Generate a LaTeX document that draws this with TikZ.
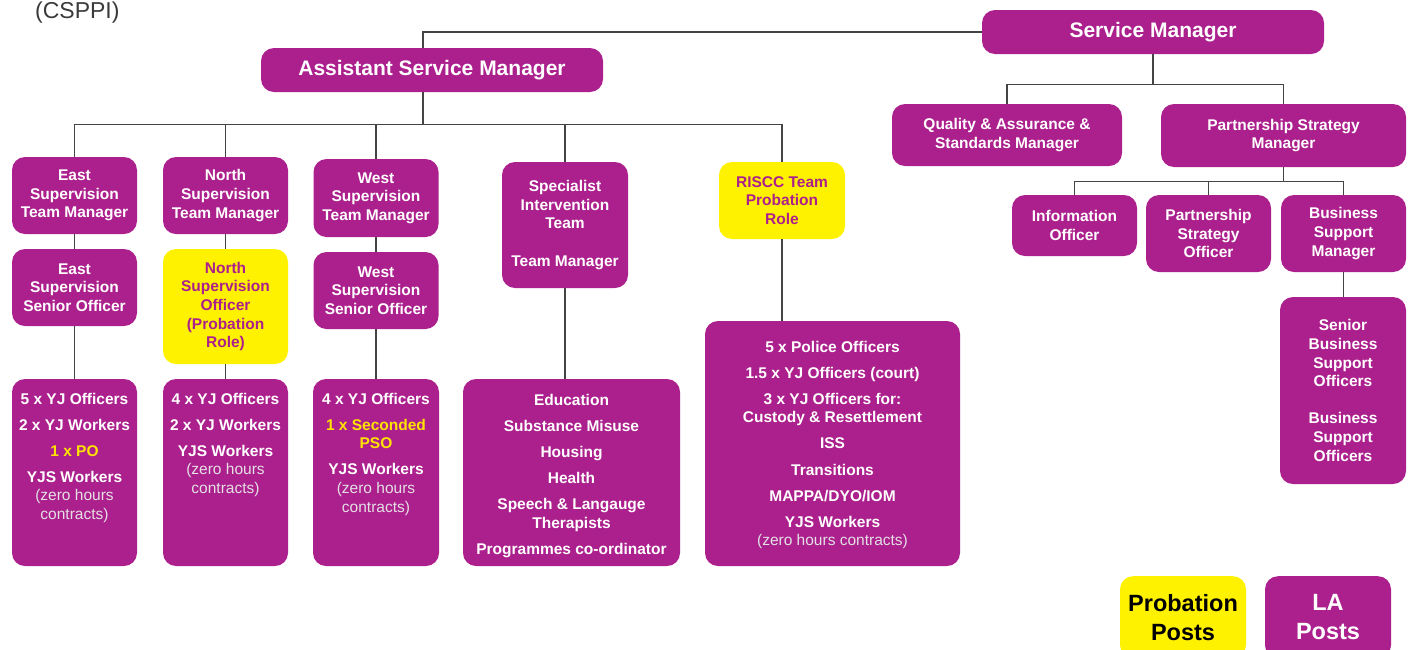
\documentclass[tikz,border=0pt]{standalone}
\usepackage{fontspec}
\setmainfont{Liberation Sans}
\usetikzlibrary{positioning}
\usetikzlibrary{calc}
\definecolor{laPurple}{HTML}{AC208D}
\definecolor{probYellow}{HTML}{FFF200}
\definecolor{poText}{HTML}{FFE400}
\definecolor{lineGray}{HTML}{444444}
\definecolor{dGray}{HTML}{3A3A3A}
\definecolor{lGray}{HTML}{E4E0E4}

\begin{document}
\begin{tikzpicture}[
    x=1pt, y=-1pt,
    post/.style = {fill=laPurple, text=white, rounded corners=13pt, inner sep=0pt, align=center,
      font=\bfseries\fontsize{15.5}{18.6}\selectfont},
    probation/.style = {post, fill=probYellow, text=laPurple},
    head/.style = {post, minimum width=342pt, minimum height=44pt, font=\bfseries\fontsize{21}{25}\selectfont},
    team/.style = {post, minimum width=125pt, minimum height=77pt},
    key/.style = {minimum width=126pt, minimum height=82pt, anchor=north, font=\bfseries\fontsize{23.5}{29}\selectfont},
    link/.style = {draw=lineGray, line width=1.3pt},
    ]

    \def\bodyfont{\fontsize{15.5}{18.6}\selectfont}
    % list box: height, width, first baseline, items
    \def\postlist#1#2#3#4{\parbox[c][#1pt][t]{#2pt}{\centering\bodyfont\rule{0pt}{#3pt}#4}}
    \def\zero#1{{\mdseries\color{lGray}#1}}

    \useasboundingbox (0,0) rectangle (1410,649);

    \node[anchor=base west, inner sep=0pt, text=dGray, font=\fontsize{23}{27}\selectfont] (csppi) at (35,18) {(CSPPI)};

    % managers
    \node[head] (sm) at (1153,32) {Service Manager};
    \node[head] (asm) at (432,70) {Assistant Service Manager};

    % team managers
    \node[team] (eastTM) at (74.5,195.5) {East\\Supervision\\Team Manager};
    \node[team] (northTM) at (225.5,195.5) {North\\Supervision\\Team Manager};
    \node[team, minimum height=78pt] (westTM) at (376,198) {West\\Supervision\\Team Manager};
    \node[team, minimum width=126pt, minimum height=126pt] (sitTM) at (565,225)
      {Specialist\\Intervention\\Team\\[18.6pt]Team Manager};
    \node[team, probation, minimum width=126pt] (risccTM) at (782,200.5) {RISCC Team\\Probation\\Role};

    % senior officers
    \node[team] (eastSO) at (74.5,287.5) {East\\Supervision\\Senior Officer};
    \node[team, probation, minimum height=115pt] (northSO) at (225.5,306.5)
      {North\\Supervision\\Officer\\(Probation\\Role)};
    \node[team] (westSO) at (376,290.5) {West\\Supervision\\Senior Officer};

    % staff lists
    \node[post] (eastList) at (74.5,472.5) {\postlist{187}{125}{25}{%
      5 x YJ Officers\\[7.5pt]2 x YJ Workers\\[7.5pt]\textcolor{poText}{1 x PO}\\[7.5pt]%
      YJS Workers\\\zero{(zero hours\\contracts)}}};
    \node[post] (northList) at (225.5,472.5) {\postlist{187}{125}{25}{%
      4 x YJ Officers\\[7.5pt]2 x YJ Workers\\[7.5pt]%
      YJS Workers\\\zero{(zero hours\\contracts)}}};
    \node[post] (westList) at (376,472.5) {\postlist{187}{126}{25}{%
      4 x YJ Officers\\[7.5pt]{\color{poText}1 x Seconded\\PSO}\\[7.5pt]%
      YJS Workers\\\zero{(zero hours\\contracts)}}};
    \node[post] (sitList) at (571.5,472.5) {\postlist{187}{217}{26}{%
      Education\\[7.5pt]Substance Misuse\\[7.5pt]Housing\\[7.5pt]Health\\[7.5pt]%
      Speech \& Langauge\\Therapists\\[7.5pt]Programmes co-ordinator}};
    \node[post] (risccList) at (832.5,443.5) {\postlist{245}{255}{31}{%
      5 x Police Officers\\[7.5pt]1.5 x YJ Officers (court)\\[7.5pt]%
      3 x YJ Officers for:\\Custody \& Resettlement\\[7.5pt]ISS\\[7.5pt]Transitions\\[7.5pt]%
      MAPPA/DYO/IOM\\[7.5pt]YJS Workers\\\zero{(zero hours contracts)}}};

    % partnership side
    \node[post, minimum width=230pt, minimum height=62pt] (qasm) at (1007,135)
      {Quality \& Assurance \&\\Standards Manager};
    \node[post, minimum width=245pt, minimum height=63pt] (psm) at (1283.5,135.5)
      {Partnership Strategy\\Manager};
    \node[team, minimum height=61pt] (info) at (1074.5,225.5) {Information\\Officer};
    \node[team] (pso) at (1208.5,233.5) {Partnership\\Strategy\\Officer};
    \node[team] (bsm) at (1343.5,233.5) {Business\\Support\\Manager};
    \node[team, minimum width=126pt, minimum height=187pt] (sbso) at (1343,390.5)
      {Senior\\Business\\Support\\Officers\\[18.6pt]Business\\Support\\Officers};

    % key
    \node[probation, key, text=black] (probKey) at (1183,576) {Probation\\Posts};
    \node[post, key] (laKey) at (1328,576) {LA\\Posts};

    % service manager -> assistant
    \draw[link] ([xshift=-9pt]asm.north) |- (sm.west);

    % assistant -> team managers
    \coordinate (asmBus) at ($(asm.south)+(-9,32)$);
    \draw[link] ([xshift=-9pt]asm.south) -- (asmBus) -| (eastTM.north);
    \draw[link] (asmBus) -| (northTM.north);
    \draw[link] (asmBus) -| (westTM.north);
    \draw[link] (asmBus) -| (sitTM.north);
    \draw[link] (asmBus) -| (risccTM.north);

    % team managers -> officers -> staff
    \draw[link] (eastTM) -- (eastSO);
    \draw[link] (eastSO) -- (eastList);
    \draw[link] (northTM) -- (northSO);
    \draw[link] (northSO) -- (northList);
    \draw[link] (westTM) -- (westSO);
    \draw[link] (westSO) -- (westList);
    \draw[link] (sitTM.south) -- (sitTM.south |- sitList.north);
    \draw[link] (risccTM.south) -- (risccTM.south |- risccList.north);

    % service manager -> partnership side
    \coordinate (smBus) at ($(sm.south)+(0,30)$);
    \draw[link] (sm.south) -- (smBus) -| (qasm.north);
    \draw[link] (smBus) -| (psm.north);
    \coordinate (psmBus) at ($(psm.south)+(0,14)$);
    \draw[link] (psm.south) -- (psmBus) -| (info.north);
    \draw[link] (psmBus) -| (pso.north);
    \draw[link] (psmBus) -| (bsm.north);
    \draw[link] (bsm.south) -- (bsm.south |- sbso.north);

  \end{tikzpicture}
\end{document}
